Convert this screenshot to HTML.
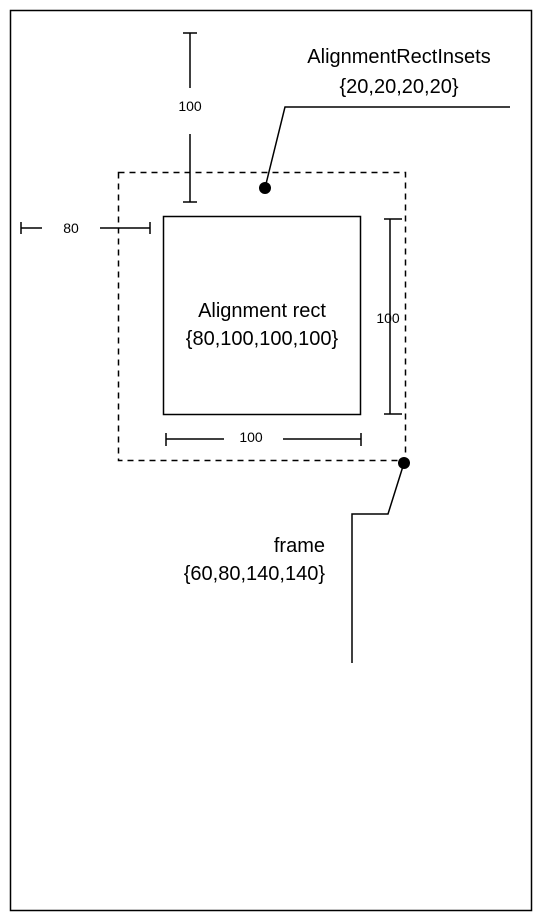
<!DOCTYPE html>
<html><head><style>body{margin:0;background:#fff}svg{display:block}</style></head><body>
<svg width="550" height="918" xmlns="http://www.w3.org/2000/svg" font-family="Liberation Sans, sans-serif" fill="none" stroke="#000">
<rect x="10.5" y="10.5" width="521" height="900" stroke-width="1.5"/>
<rect x="118.5" y="172.5" width="287" height="288" stroke-width="1.5" stroke-dasharray="6,5"/>
<rect x="163.5" y="216.5" width="197" height="198" stroke-width="1.5"/>
<g stroke-width="1.5">
<path d="M190 33V88M190 134V202M183 33H197M183 202H197"/>
<path d="M21 222V234M21 228H42M100 228H150M150 222V234"/>
<path d="M390 219V414M384 219H402M384 414H402"/>
<path d="M166 433V446M166 439H224M283 439H361M361 433V446"/>
<path d="M265 188L285 107H510"/>
<path d="M404 463L388 514H352V663"/>
</g>
<circle cx="265" cy="188" r="6" fill="#000" stroke="none"/>
<circle cx="404" cy="463" r="6" fill="#000" stroke="none"/>
<g fill="#000" stroke="none" text-anchor="middle">
<text x="190" y="111" font-size="14">100</text>
<text x="71" y="233" font-size="14">80</text>
<text x="388" y="323" font-size="14">100</text>
<text x="251" y="442" font-size="14">100</text>
<text x="399" y="63" font-size="20">AlignmentRectInsets</text>
<text x="399" y="93" font-size="20">{20,20,20,20}</text>
<text x="262" y="317" font-size="20">Alignment rect</text>
<text x="262" y="345" font-size="20">{80,100,100,100}</text>
<text x="325" y="552" font-size="20" text-anchor="end">frame</text>
<text x="325" y="580" font-size="20" text-anchor="end">{60,80,140,140}</text>
</g>
</svg>
</body></html>
